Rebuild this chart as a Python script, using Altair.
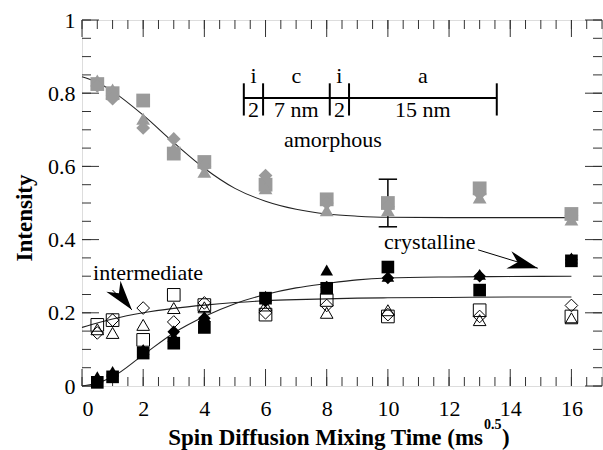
import altair as alt
import pandas as pd

# ---- measured intensities (x = sqrt of mixing time, ms^0.5) ----
mix_time = [0.5, 1, 2, 3, 4, 6, 8, 10, 13, 16]

amorph_square   = [0.825, 0.800, 0.780, 0.635, 0.612, 0.550, 0.510, 0.500, 0.540, 0.470]
amorph_triangle = [0.835, 0.810, 0.730, 0.650, 0.585, 0.540, 0.480, 0.480, 0.515, 0.455]
amorph_diamond  = [0.820, 0.785, 0.705, 0.675, 0.600, 0.575, 0.500, 0.490, 0.525, 0.465]

cryst_square    = [0.010, 0.025, 0.090, 0.117, 0.160, 0.240, 0.267, 0.325, 0.262, 0.342]
cryst_triangle  = [0.025, 0.040, 0.100, 0.135, 0.190, 0.245, 0.317, 0.300, 0.305, 0.350]
cryst_diamond   = [0.015, 0.030, 0.095, 0.148, 0.185, 0.232, 0.270, 0.295, 0.300, 0.345]

inter_square    = [0.167, 0.180, 0.126, 0.249, 0.221, 0.195, 0.235, 0.190, 0.207, 0.190]
inter_triangle  = [0.155, 0.145, 0.167, 0.213, 0.215, 0.220, 0.200, 0.207, 0.180, 0.185]
inter_diamond   = [0.145, 0.180, 0.213, 0.175, 0.227, 0.200, 0.220, 0.195, 0.190, 0.220]

# ---- fitted curves ----
fit_x         = [0, 0.5, 1, 2, 3, 4, 5, 6, 7, 8, 9, 10, 12, 14, 16]
fit_amorph    = [0.845, 0.830, 0.805, 0.740, 0.665, 0.595, 0.540, 0.505, 0.483, 0.470, 0.464, 0.461, 0.460, 0.460, 0.460]
fit_cryst     = [0.000, 0.008, 0.025, 0.085, 0.145, 0.190, 0.225, 0.250, 0.268, 0.280, 0.290, 0.295, 0.298, 0.299, 0.300]
fit_inter     = [0.160, 0.172, 0.183, 0.200, 0.212, 0.221, 0.228, 0.233, 0.236, 0.238, 0.240, 0.241, 0.242, 0.243, 0.243]

# ---- error bar on the amorphous point at 10 ms^0.5 ----
err_x, err_lo, err_hi = 10, 0.435, 0.565

# ---- axis ticks ----
x_major = [0, 2, 4, 6, 8, 10, 12, 14, 16]
x_minor = [i * 0.5 for i in range(0, 35)]
y_major = [0, 0.2, 0.4, 0.6, 0.8, 1.0]
y_minor = [round(i * 0.05, 2) for i in range(0, 21)]

# ---- lamellar stack sketch (i | c | i | a) ----
stack_edges = [5.29, 5.92, 8.10, 8.73, 13.56]
stack_top_labels = ["i", "c", "i", "a"]
stack_bottom_labels = ["2", "7 nm", "2", "15 nm"]

FONT = "Liberation Serif"
GRAY = "#9a9a9a"
W, H = 520, 366
TXT = 22

xs = alt.Scale(domain=[0, 17], nice=False, zero=False)
ys = alt.Scale(domain=[0, 1], nice=False, zero=False)


def X(field="x"):
    return alt.X(f"{field}:Q", scale=xs,
                 axis=alt.Axis(values=x_major, ticks=False, domain=False, grid=False,
                               labelFont=FONT, labelFontSize=TXT, labelColor="black",
                               labelPadding=12, title=None))


def Y(field="y"):
    return alt.Y(f"{field}:Q", scale=ys,
                 axis=alt.Axis(values=y_major, ticks=False, domain=False, grid=False,
                               labelFont=FONT, labelFontSize=TXT, labelColor="black",
                               labelPadding=7, format="~g", title=None))


rows = []
for grp, series in [("amorphous", (amorph_square, amorph_triangle, amorph_diamond)),
                    ("crystalline", (cryst_square, cryst_triangle, cryst_diamond)),
                    ("intermediate", (inter_square, inter_triangle, inter_diamond))]:
    for shape, vals in zip(["square", "triangle-up", "diamond"], series):
        for xv, yv in zip(mix_time, vals):
            rows.append({"x": xv, "y": yv, "group": grp, "shape": shape})
pts = pd.DataFrame(rows)

fits = pd.DataFrame(
    [{"x": a, "y": b, "group": "amorphous"} for a, b in zip(fit_x, fit_amorph)]
    + [{"x": a, "y": b, "group": "crystalline"} for a, b in zip(fit_x, fit_cryst)]
    + [{"x": a, "y": b, "group": "intermediate"} for a, b in zip(fit_x, fit_inter)]
)

curves = alt.Chart(fits).mark_line(color="#222", strokeWidth=1.1, interpolate="monotone").encode(
    x=X(), y=Y(), detail="group:N")

shape_scale = alt.Scale(domain=["square", "triangle-up", "diamond"],
                        range=["square", "triangle-up", "diamond"])

amorph_pts = alt.Chart(pts[pts.group == "amorphous"]).mark_point(
    filled=True, color=GRAY, size=190, opacity=1).encode(
    x=X(), y=Y(), shape=alt.Shape("shape:N", scale=shape_scale, legend=None))

cryst_pts = alt.Chart(pts[pts.group == "crystalline"]).mark_point(
    filled=True, color="black", size=160, opacity=1).encode(
    x=X(), y=Y(), shape=alt.Shape("shape:N", scale=shape_scale, legend=None))

inter_pts = alt.Chart(pts[pts.group == "intermediate"]).mark_point(
    filled=False, color="black", size=160, strokeWidth=1, opacity=1).encode(
    x=X(), y=Y(), shape=alt.Shape("shape:N", scale=shape_scale, legend=None))

# error bar with caps
err_df = pd.DataFrame({"x": [err_x], "lo": [err_lo], "hi": [err_hi],
                       "xl": [err_x - 0.3], "xr": [err_x + 0.3]})
err_v = alt.Chart(err_df).mark_rule(color="black", strokeWidth=1.5).encode(
    x=X(), y=Y("lo"), y2="hi:Q")
err_lo_cap = alt.Chart(err_df).mark_rule(color="black", strokeWidth=1.5).encode(
    x=X("xl"), x2="xr:Q", y=Y("lo"))
err_hi_cap = alt.Chart(err_df).mark_rule(color="black", strokeWidth=1.5).encode(
    x=X("xl"), x2="xr:Q", y=Y("hi"))

# phase labels
labels = pd.DataFrame({"x": [8.2, 11.37, 2.16], "y": [0.672, 0.393, 0.309],
                       "t": ["amorphous", "crystalline", "intermediate"]})
label_text = alt.Chart(labels).mark_text(font=FONT, fontSize=TXT, color="black").encode(
    x=X(), y=Y(), text="t:N")

# arrows from the labels to the curves
ARROW = "M0,0 L-2,-0.6 L-1.4,0 L-2,0.6 Z"
arrows = pd.DataFrame({"x": [12.95, 1.0], "y": [0.372, 0.262],
                       "xe": [14.9, 1.63], "ye": [0.322, 0.208], "ang": [16, 52]})
arrow_shaft = alt.Chart(arrows).mark_rule(color="black", strokeWidth=1).encode(
    x=X(), y=Y(), x2="xe:Q", y2="ye:Q")
arrow_head = alt.Chart(arrows).mark_point(shape=ARROW, filled=True, color="black",
                                          size=900, opacity=1).encode(
    x=X("xe"), y=Y("ye"), angle=alt.Angle("ang:Q", scale=None))

# lamellar stack sketch
stack_line = alt.Chart(pd.DataFrame({"x": [stack_edges[0]], "xe": [stack_edges[-1]], "y": [0.787]})
                       ).mark_rule(color="black", strokeWidth=2).encode(x=X(), x2="xe:Q", y=Y())
stack_bars = alt.Chart(pd.DataFrame({"x": stack_edges, "y": [0.739] * 5, "ye": [0.827] * 5})
                       ).mark_rule(color="black", strokeWidth=2).encode(x=X(), y=Y(), y2="ye:Q")
mids = [(a + b) / 2 for a, b in zip(stack_edges[:-1], stack_edges[1:])]
stack_top = alt.Chart(pd.DataFrame({"x": mids, "y": [0.846] * 4, "t": stack_top_labels})
                      ).mark_text(font=FONT, fontSize=TXT, color="black").encode(x=X(), y=Y(), text="t:N")
stack_bot = alt.Chart(pd.DataFrame({"x": mids, "y": [0.754] * 4, "t": stack_bottom_labels})
                      ).mark_text(font=FONT, fontSize=TXT, color="black").encode(x=X(), y=Y(), text="t:N")

# inward ticks on all four sides
def tick_layer(vals, axis, length):
    df = pd.DataFrame({"v": vals})
    if axis == "x":
        bottom = alt.Chart(df).mark_rule(color="#333", strokeWidth=1).encode(
            x=X("v"), y=alt.value(H), y2=alt.value(H - length))
        top = alt.Chart(df).mark_rule(color="#333", strokeWidth=1).encode(
            x=X("v"), y=alt.value(0), y2=alt.value(length))
        return [bottom, top]
    left = alt.Chart(df).mark_rule(color="#333", strokeWidth=1).encode(
        y=Y("v"), x=alt.value(0), x2=alt.value(length))
    right = alt.Chart(df).mark_rule(color="#333", strokeWidth=1).encode(
        y=Y("v"), x=alt.value(W), x2=alt.value(W - length))
    return [left, right]

ticks = (tick_layer(x_minor, "x", 9) + tick_layer(x_major, "x", 17)
         + tick_layer(y_minor, "y", 9) + tick_layer(y_major, "y", 17))

# axis titles
y_title = alt.Chart(pd.DataFrame({"t": ["Intensity"]})).mark_text(
    font=FONT, fontSize=23, fontWeight="bold", angle=270, color="black").encode(
    x=alt.value(-57), y=alt.value(198), text="t:N")
x_title = alt.Chart(pd.DataFrame({"t": ["Spin Diffusion Mixing Time (ms"]})).mark_text(
    font=FONT, fontSize=23, fontWeight="bold", align="right", baseline="alphabetic",
    color="black").encode(x=alt.value(401), y=alt.value(425), text="t:N")
x_sup = alt.Chart(pd.DataFrame({"t": ["0.5"]})).mark_text(
    font=FONT, fontSize=14, fontWeight="bold", align="left", baseline="alphabetic",
    color="black").encode(x=alt.value(402), y=alt.value(409), text="t:N")
x_close = alt.Chart(pd.DataFrame({"t": [")"]})).mark_text(
    font=FONT, fontSize=23, fontWeight="bold", align="left", baseline="alphabetic",
    color="black").encode(x=alt.value(420), y=alt.value(425), text="t:N")

chart = alt.layer(
    *ticks, curves, err_v, err_lo_cap, err_hi_cap,
    amorph_pts, inter_pts, cryst_pts,
    label_text, arrow_shaft, arrow_head,
    stack_line, stack_bars, stack_top, stack_bot,
    y_title, x_title, x_sup, x_close,
).properties(
    width=W, height=H,
    autosize=alt.AutoSizeParams(type="none"),
    padding={"left": 82, "top": 20, "right": 1, "bottom": 64},
).configure_view(stroke="#222", strokeWidth=1.2).configure(background="white")

chart.save("out.html", embed_options={"renderer": "svg", "actions": False})
